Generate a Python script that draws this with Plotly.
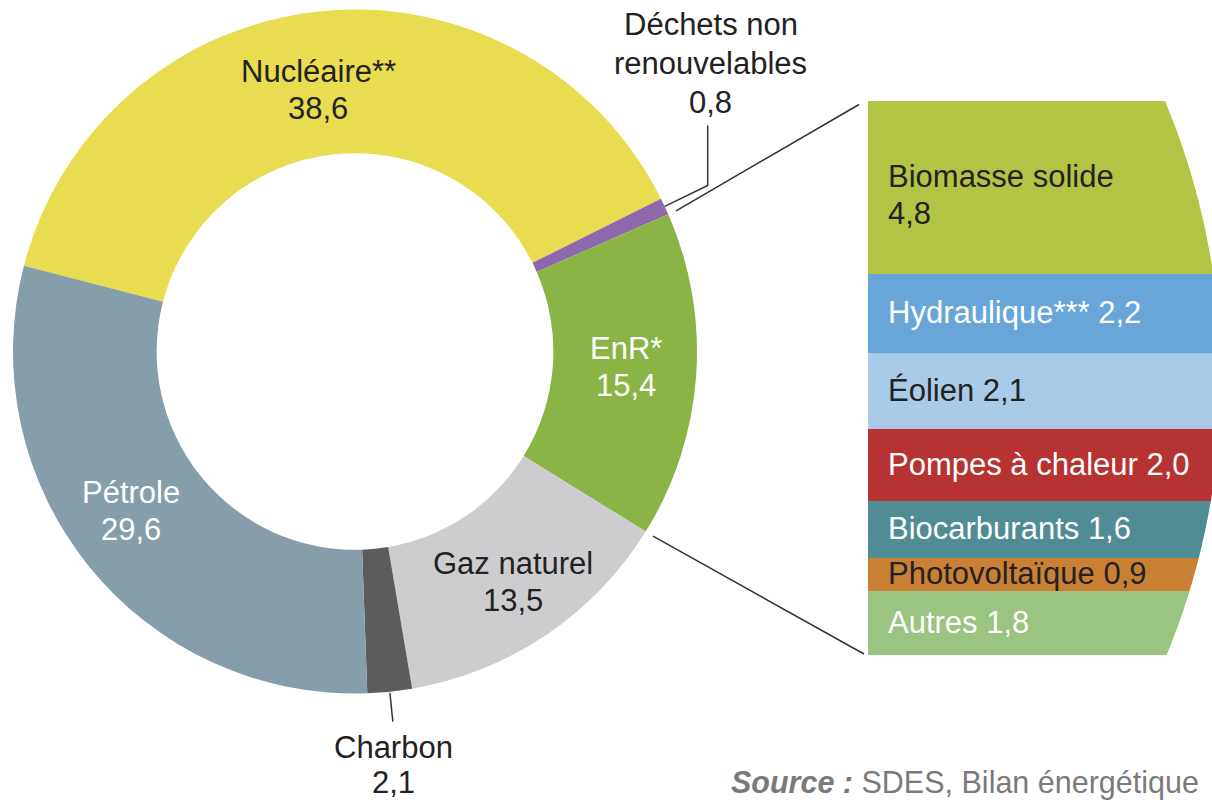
import numpy as np
import plotly.graph_objects as go

W, H = 1212, 803

# ---------------- Data ----------------
# Primary energy mix (%)
sources = ["Nucléaire**", "Déchets non renouvelables", "EnR*", "Gaz naturel", "Charbon", "Pétrole"]
shares = [38.6, 0.8, 15.4, 13.5, 2.1, 29.6]
source_colors = ["#E8DC50", "#8E68AC", "#8AB446", "#CDCDCF", "#5B5C5E", "#869DAA"]
source_text_colors = ["#222222", "#222222", "#FFFFFF", "#222222", "#222222", "#FFFFFF"]

# Breakdown of renewables (EnR*)
enr_labels = ["Biomasse solide", "Hydraulique***", "Éolien", "Pompes à chaleur",
              "Biocarburants", "Photovoltaïque", "Autres"]
enr_values = [4.8, 2.2, 2.1, 2.0, 1.6, 0.9, 1.8]
enr_colors = ["#B3C444", "#68A6D9", "#A9CBE8", "#B73331", "#508C93", "#C98034", "#9AC47F"]
enr_text_colors = ["#222222", "#FFFFFF", "#222222", "#FFFFFF", "#FFFFFF", "#222222", "#FFFFFF"]

source_note_bold = "Source :"
source_note = "SDES, Bilan énergétique"

# ---------------- Layout constants (pixels) ----------------
CX, CY, R_OUT = 355.0, 351.5, 342.0
HOLE = 0.58
ROT = -75.5
BLOCK_L, BLOCK_T, BLOCK_B = 868.0, 100.5, 655.0
FONT = "Liberation Sans, Arial, Helvetica, sans-serif"
FS = 31
LINE_GAP = 37
LINE_COLOR = "#333333"
# small per-label nudges (pixels) for ring labels
RING_NUDGE = {0: (-8, 9), 2: (0, -4), 3: (6, 5), 5: (-12, -11)}


def fr(v):
    return f"{v:.1f}".replace(".", ",")


def px(x):
    return x / W


def py(y):
    return 1 - y / H


def polar(angle_deg, r):
    a = np.radians(angle_deg)
    return CX + r * np.sin(a), CY - r * np.cos(a)


annotations = []
shapes = []


def add_lines(x, y_center, lines, color, gap=LINE_GAP, size=FS):
    n = len(lines)
    for k, t in enumerate(lines):
        off = (k - (n - 1) / 2) * gap
        annotations.append(dict(
            x=px(x), y=py(y_center + off), xref="paper", yref="paper", showarrow=False,
            text=t, font=dict(family=FONT, size=size, color=color),
            xanchor="center", yanchor="middle", align="center",
        ))


fig = go.Figure()

# Donut
fig.add_trace(go.Pie(
    labels=sources, values=shares, sort=False, direction="clockwise",
    rotation=ROT, hole=HOLE, textinfo="none",
    marker=dict(colors=source_colors, line=dict(width=0)),
    domain=dict(x=[px(CX - R_OUT), px(CX + R_OUT)], y=[py(CY + R_OUT), py(CY - R_OUT)]),
    showlegend=False, hoverinfo="label+value",
))

# EnR stacked block
for lab, val, col in zip(enr_labels, enr_values, enr_colors):
    fig.add_trace(go.Bar(
        x=[0], y=[val], width=[1], name=lab,
        marker=dict(color=col, line=dict(width=0)),
        showlegend=False, hoverinfo="name+y",
    ))

total = float(sum(shares))
cum = np.concatenate([[0.0], np.cumsum(shares)])
start = ROT + 360 * cum[:-1] / total
end = ROT + 360 * cum[1:] / total
mid = (start + end) / 2

# Labels inside ring
for i in [0, 2, 3, 5]:
    x, y = polar(mid[i], 0.795 * R_OUT)
    dx, dy = RING_NUDGE.get(i, (0, 0))
    add_lines(x + dx, y + dy, [sources[i], fr(shares[i])], source_text_colors[i])

# Déchets leader + label
i = 1
sx, sy = polar(mid[i], R_OUT)
ex, ey = sx + 43, sy - 21
tx, ty = ex, ey - 60
shapes.append(dict(
    type="path", xref="paper", yref="paper",
    path=f"M {px(sx)} {py(sy)} L {px(ex)} {py(ey)} L {px(tx)} {py(ty)}",
    line=dict(color=LINE_COLOR, width=1.5),
))
name_parts = sources[i].split(" non ")
add_lines(tx + 3, ty - 62, [name_parts[0] + " non", name_parts[1], fr(shares[i])], "#222222", gap=39)

# Charbon leader + label
i = 4
x0, y0 = polar(mid[i], R_OUT + 1)
x1, y1 = polar(mid[i], R_OUT + 30)
shapes.append(dict(type="line", xref="paper", yref="paper",
                   x0=px(x0), y0=py(y0), x1=px(x1), y1=py(y1),
                   line=dict(color=LINE_COLOR, width=1.5)))
lx, ly = polar(mid[i], 1.225 * R_OUT)
add_lines(lx - 4, ly - 3, [sources[i], fr(shares[i])], "#222222", gap=35)

# Connector lines from EnR slice edges to the block
enr_i = 2
a_x, a_y = polar(start[enr_i], 1.025 * R_OUT)
b_x, b_y = polar(end[enr_i], 1.025 * R_OUT)
shapes.append(dict(type="line", xref="paper", yref="paper",
                   x0=px(a_x), y0=py(a_y), x1=px(BLOCK_L - 9), y1=py(BLOCK_T + 4),
                   line=dict(color=LINE_COLOR, width=1.5)))
shapes.append(dict(type="line", xref="paper", yref="paper",
                   x0=px(b_x), y0=py(b_y), x1=px(BLOCK_L - 4), y1=py(BLOCK_B - 1),
                   line=dict(color=LINE_COLOR, width=1.5)))

# Labels inside the block
enr_total = float(sum(enr_values))
ecum = np.concatenate([[0.0], np.cumsum(enr_values)])
for lab, val, tc, a, b in zip(enr_labels, enr_values, enr_text_colors, ecum[:-1], ecum[1:]):
    lines = [lab, fr(val)] if val >= 4 else [f"{lab} {fr(val)}"]
    n = len(lines)
    for k, t in enumerate(lines):
        off = (k - (n - 1) / 2) * LINE_GAP
        annotations.append(dict(
            x=px(BLOCK_L + 18), y=(a + b) / 2, xref="paper", yref="y", showarrow=False,
            text=t, font=dict(family=FONT, size=FS, color=tc),
            xanchor="left", yanchor="middle", align="left",
            yshift=-off - (8 if n > 1 else 0),
        ))

# Curved right edge of the block (white mask)
ACX, ACY, AR = 498.0, 380.0, 723.0
ys = np.linspace(BLOCK_T - 8, BLOCK_B + 8, 80)
xs = ACX + np.sqrt(AR ** 2 - (ys - ACY) ** 2)
pts = [f"{px(x)} {py(y)}" for x, y in zip(xs, ys)]
mask_path = "M " + " L ".join(pts) + f" L {px(W + 20)} {py(BLOCK_B + 8)} L {px(W + 20)} {py(BLOCK_T - 8)} Z"
shapes.append(dict(type="path", xref="paper", yref="paper", path=mask_path,
                   fillcolor="white", line=dict(width=0), layer="above"))

# Source
annotations.append(dict(
    x=px(729), y=py(782), xref="paper", yref="paper", showarrow=False,
    text=f"<b><i>{source_note_bold}</i></b> {source_note}",
    font=dict(family=FONT, size=30.5, color="#7A7A7A"),
    xanchor="left", yanchor="middle", align="left",
))

fig.update_layout(
    width=W, height=H, margin=dict(l=0, r=0, t=0, b=0),
    paper_bgcolor="white", plot_bgcolor="white",
    barmode="stack", bargap=0,
    xaxis=dict(domain=[px(BLOCK_L), 1], range=[-0.5, 0.5], visible=False, fixedrange=True),
    yaxis=dict(domain=[py(BLOCK_B), py(BLOCK_T)], range=[enr_total, 0], visible=False, fixedrange=True),
    annotations=annotations, shapes=shapes,
    showlegend=False,
)

fig.write_html("out.html", config={"displayModeBar": False},
               post_script="document.body.style.margin='0px';")
